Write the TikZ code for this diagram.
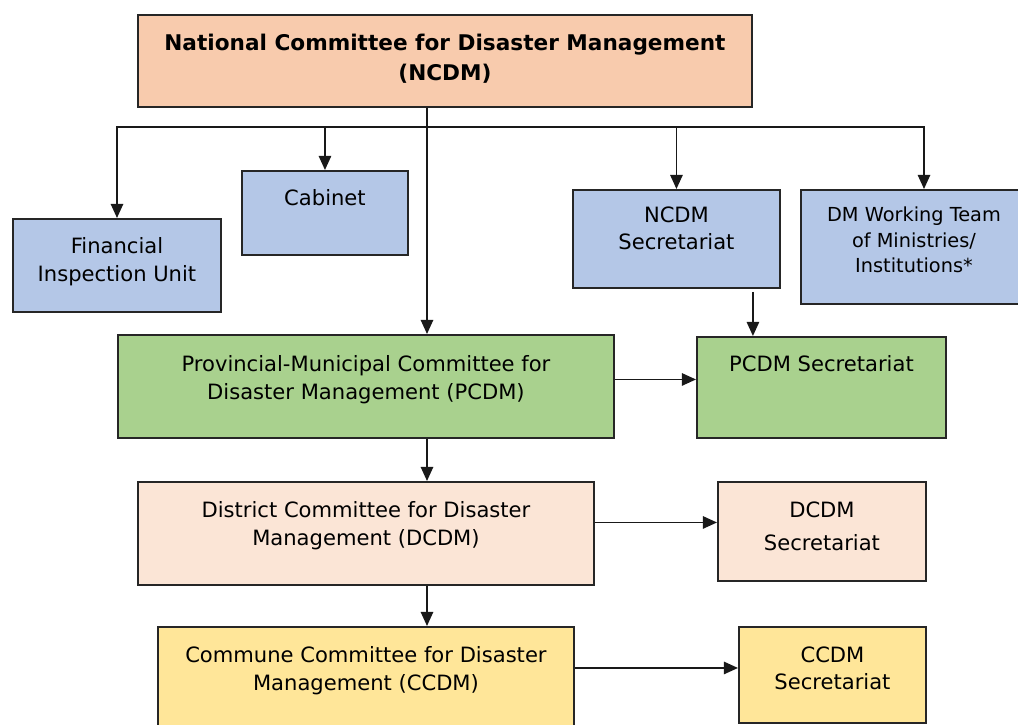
\documentclass[tikz,border=0pt]{standalone}
\usepackage{fontspec}
\setmainfont{DejaVu Sans}
\usetikzlibrary{shapes, arrows, arrows.meta}
\definecolor{ncdmfill}{HTML}{F8CBAD}
\definecolor{bluefill}{HTML}{B4C7E7}
\definecolor{pcdmfill}{HTML}{A9D18E}
\definecolor{dcdmfill}{HTML}{FBE5D6}
\definecolor{ccdmfill}{HTML}{FFE699}
\newlength{\pxu}
\setlength{\pxu}{0.02cm}
\newcommand{\boxtext}[4]{\parbox[c][#2\pxu][t]{#1\pxu}{\centering\vspace*{#3\pxu}#4\par}}
\tikzstyle{unit} = [draw=black!85, line width=1.1pt, rectangle, inner sep=0pt, anchor=north west, font=\fontsize{12}{15.5}\selectfont]
\tikzstyle{link} = [draw=black!90, line width=1pt, -{Triangle[length=8pt,width=7pt]}]
\tikzstyle{bus} = [draw=black!90, line width=1pt, line cap=rect]

\begin{document}
\begin{tikzpicture}[x=0.02cm, y=-0.02cm]
	\useasboundingbox (0,0) rectangle (1018,724);
	\node[unit, fill=ncdmfill, font=\fontsize{12.3}{17}\selectfont\bfseries] (ncdm) at (137,14) {\boxtext{614}{92}{19}{National Committee for Disaster Management\\(NCDM)}};
	\node[unit, fill=bluefill] (fiu) at (12,218) {\boxtext{208}{93}{19}{Financial\\Inspection Unit}};
	\node[unit, fill=bluefill] (cab) at (241,170) {\boxtext{166}{84}{19}{Cabinet}};
	\node[unit, fill=bluefill] (nsec) at (572,189) {\boxtext{207}{98}{17}{NCDM\\Secretariat}};
	\node[unit, fill=bluefill, font=\fontsize{11}{14.5}\selectfont] (dmw) at (800,189) {\boxtext{226}{114}{17}{DM Working Team\\of Ministries/\\Institutions*}};
	\node[unit, fill=pcdmfill] (pcdm) at (117,334) {\boxtext{496}{103}{21}{Provincial-Municipal Committee for\\Disaster Management (PCDM)}};
	\node[unit, fill=pcdmfill] (psec) at (696,336) {\boxtext{249}{101}{19}{PCDM Secretariat}};
	\node[unit, fill=dcdmfill] (dcdm) at (137,481) {\boxtext{456}{103}{20}{District Committee for Disaster\\Management (DCDM)}};
	\node[unit, fill=dcdmfill] (dsec) at (717,481) {\boxtext{208}{99}{20}{DCDM\\[3pt]Secretariat}};
	\node[unit, fill=ccdmfill] (ccdm) at (157,626) {\boxtext{416}{110}{20}{Commune Committee for Disaster\\Management (CCDM)}};
	\node[unit, fill=ccdmfill] (csec) at (738,626) {\boxtext{187}{96}{20}{CCDM\\Secretariat}};

	\coordinate (busL) at (117,127);
	\coordinate (busR) at (924,127);
	\coordinate (trunk) at (427,127);
	\coordinate (ndrop) at ([shift={(-28,3)}]nsec.south east);
	\coordinate (p1) at ([shift={(0,-8)}]psec.west);
	\coordinate (d1) at ([shift={(0,-9)}]dsec.west);
	\coordinate (c1) at ([shift={(0,-7)}]csec.west);

	\draw[bus] (busL) -- (busR);
	\draw[link] (busL) -- (busL |- fiu.north);
	\draw[link] (cab.north |- busL) -- (cab.north);
	\draw[link] (nsec.north |- busL) -- (nsec.north);
	\draw[link] (busR) -- (busR |- dmw.north);
	\draw[link] (trunk |- ncdm.south) -- (trunk |- pcdm.north);
	\draw[link] (ndrop) -- (ndrop |- psec.north);
	\draw[link] (pcdm.east |- p1) -- (p1);
	\draw[link] (trunk |- pcdm.south) -- (trunk |- dcdm.north);
	\draw[link] (dcdm.east |- d1) -- (d1);
	\draw[link] (trunk |- dcdm.south) -- (trunk |- ccdm.north);
	\draw[link] (ccdm.east |- c1) -- (c1);
\end{tikzpicture}
\end{document}
